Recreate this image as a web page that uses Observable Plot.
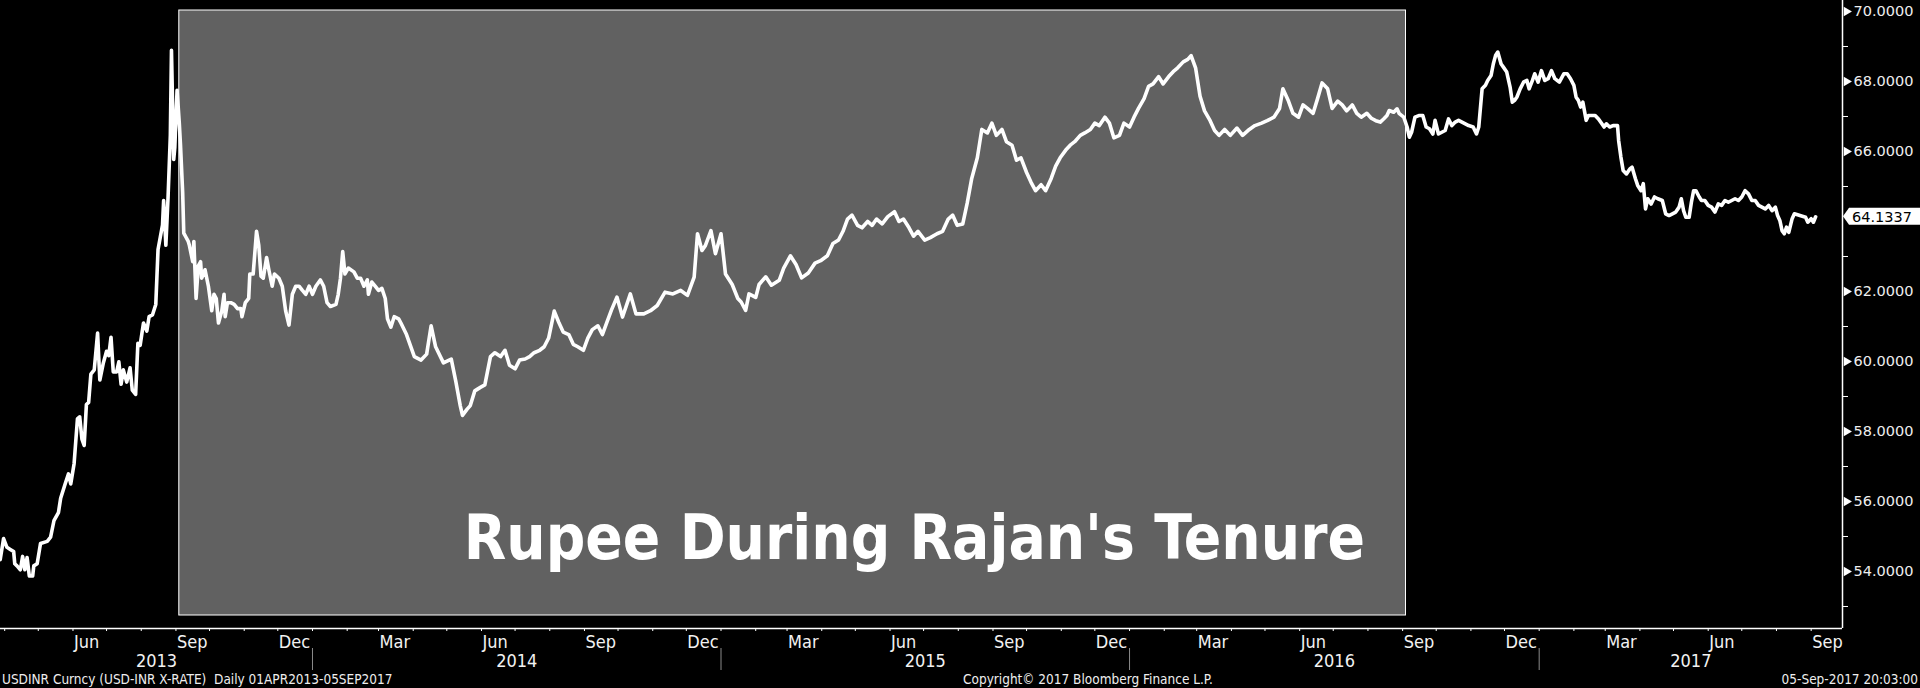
<!DOCTYPE html>
<html><head><meta charset="utf-8">
<script src="https://cdn.jsdelivr.net/npm/d3@7"></script>
<script src="https://cdn.jsdelivr.net/npm/@observablehq/plot@0.6"></script>
<style>
html,body{margin:0;padding:0;background:#000;overflow:hidden;}
#chart svg{display:block;}
#footer{position:relative;width:1920px;height:18px;font-family:"DejaVu Sans Condensed","DejaVu Sans",sans-serif;font-size:13.5px;color:#eee;line-height:18px;}
#footer span{position:absolute;top:0;white-space:pre;}
</style></head><body>
<div id="chart"></div>
<div id="footer"><span style="left:2px">USDINR Curncy (USD-INR X-RATE)  Daily 01APR2013-05SEP2017</span><span style="left:963px">Copyright© 2017 Bloomberg Finance L.P.</span><span style="right:2px">05-Sep-2017 20:03:00</span></div>
<script>
// USD-INR daily rate
const usdinr2013 = [
["2013-03-28",54.34],["2013-03-31",54.94],["2013-04-03",54.69],["2013-04-06",54.63],["2013-04-09",54.57],["2013-04-10",54.22],["2013-04-12",54.16],["2013-04-15",54.05],["2013-04-17",54.43],["2013-04-19",54.05],["2013-04-21",54.40],["2013-04-23",53.87],["2013-04-26",53.87],["2013-04-27",54.16],["2013-04-30",54.22],
["2013-05-03",54.80],["2013-05-09",54.86],["2013-05-12",54.98],["2013-05-15",55.45],["2013-05-19",55.68],["2013-05-21",56.09],["2013-05-25",56.50],["2013-05-28",56.79],["2013-05-30",56.50],
["2013-06-02",57.08],["2013-06-05",58.36],["2013-06-07",58.42],["2013-06-09",57.78],["2013-06-11",57.60],["2013-06-13",58.77],["2013-06-15",58.83],["2013-06-17",59.64],["2013-06-20",59.76],["2013-06-23",60.81],["2013-06-25",59.47],["2013-06-28",59.94],
["2013-07-01",60.29],["2013-07-03",60.17],["2013-07-05",60.69],["2013-07-07",59.70],["2013-07-10",59.70],["2013-07-12",59.99],["2013-07-14",59.35],["2013-07-16",59.76],["2013-07-19",59.41],["2013-07-22",59.82],["2013-07-24",59.18],["2013-07-27",59.06],["2013-07-29",60.52],["2013-07-31",60.46],
["2013-08-03",61.10],["2013-08-06",60.87],["2013-08-08",61.28],["2013-08-11",61.33],["2013-08-14",61.63],["2013-08-16",63.20],["2013-08-18",63.55],["2013-08-20",63.90],["2013-08-21",64.60],["2013-08-23",63.32],["2013-08-25",64.72],["2013-08-27",66.47],["2013-08-28",68.89],["2013-08-30",65.77],["2013-08-31",66.12],
["2013-09-02",67.75],["2013-09-04",66.81],["2013-09-05",66.23],["2013-09-07",64.83],["2013-09-08",63.67],["2013-09-10",63.55],["2013-09-12",63.43],["2013-09-13",63.32],["2013-09-16",62.85],["2013-09-17",63.43],["2013-09-19",61.80],["2013-09-21",62.73],["2013-09-23",62.85],["2013-09-24",62.38],["2013-09-27",62.62],["2013-09-30",62.15],
["2013-10-03",61.45],["2013-10-05",61.92],["2013-10-07",61.80],["2013-10-09",61.10],["2013-10-12",61.45],["2013-10-14",61.92],["2013-10-15",61.28],["2013-10-17",61.68],["2013-10-20",61.68],["2013-10-23",61.63],["2013-10-26",61.51],["2013-10-29",61.51],["2013-10-30",61.28],
["2013-11-02",61.68],["2013-11-05",61.80],["2013-11-06",62.50],["2013-11-09",62.50],["2013-11-12",63.72],["2013-11-14",63.32],["2013-11-16",62.44],["2013-11-18",62.38],["2013-11-21",62.97],["2013-11-23",62.62],["2013-11-26",62.15],["2013-11-28",62.50],
["2013-12-02",62.38],["2013-12-05",62.15],["2013-12-08",61.45],["2013-12-11",61.04],["2013-12-14",61.92],["2013-12-17",62.15],["2013-12-20",62.15],["2013-12-23",62.03],["2013-12-26",61.92],["2013-12-29",62.15]
];
const usdinr2014 = [
["2014-01-01",61.92],["2014-01-04",62.15],["2014-01-08",62.33],["2014-01-11",62.15],["2014-01-14",61.68],["2014-01-17",61.57],["2014-01-22",61.63],["2014-01-24",61.92],["2014-01-26",62.38],["2014-01-28",63.14],["2014-01-30",62.50],
["2014-02-02",62.67],["2014-02-07",62.56],["2014-02-10",62.38],["2014-02-13",62.38],["2014-02-16",62.15],["2014-02-19",62.33],["2014-02-20",61.92],["2014-02-23",62.27],["2014-02-26",62.15],
["2014-03-01",62.03],["2014-03-04",62.09],["2014-03-07",61.80],["2014-03-09",61.22],["2014-03-12",60.98],["2014-03-15",61.28],["2014-03-19",61.22],["2014-03-21",61.10],["2014-03-26",60.77],
["2014-04-02",60.14],["2014-04-08",60.04],["2014-04-13",60.21],["2014-04-17",61.02],["2014-04-21",60.42],["2014-04-28",59.96],
["2014-05-05",60.07],["2014-05-09",59.44],["2014-05-13",58.74],["2014-05-15",58.46],["2014-05-19",58.63],["2014-05-22",58.74],["2014-05-26",59.16],["2014-05-31",59.26],
["2014-06-04",59.33],["2014-06-09",60.14],["2014-06-13",60.25],["2014-06-18",60.14],["2014-06-22",60.32],["2014-06-26",59.89],
["2014-07-01",59.79],["2014-07-05",60.04],["2014-07-10",60.07],["2014-07-14",60.14],["2014-07-18",60.25],["2014-07-23",60.32],["2014-07-27",60.42],["2014-07-31",60.67],
["2014-08-05",61.44],["2014-08-09",61.12],["2014-08-13",60.84],["2014-08-18",60.77],["2014-08-22",60.49],["2014-08-26",60.42],["2014-08-31",60.32],
["2014-09-04",60.67],["2014-09-08",60.91],["2014-09-13",61.02],["2014-09-17",60.77],["2014-09-21",61.12],["2014-09-25",61.46],["2014-09-30",61.84],
["2014-10-05",61.27],["2014-10-12",61.93],["2014-10-17",61.36],["2014-10-24",61.36],["2014-10-30",61.45],
["2014-11-05",61.60],["2014-11-12",61.98],["2014-11-19",61.93],["2014-11-26",62.03],
["2014-12-02",61.89],["2014-12-08",62.41],["2014-12-11",63.65],["2014-12-15",63.17],["2014-12-18",63.31],["2014-12-23",63.74],["2014-12-27",63.08]
];
const usdinr2015 = [
["2015-01-01",63.65],["2015-01-05",62.50],["2015-01-11",62.20],["2015-01-16",61.80],["2015-01-19",61.70],["2015-01-23",61.46],["2015-01-26",61.93],
["2015-02-01",61.83],["2015-02-04",62.20],["2015-02-10",62.42],["2015-02-15",62.18],["2015-02-22",62.32],["2015-02-26",62.67],
["2015-03-04",63.02],["2015-03-09",62.77],["2015-03-14",62.39],["2015-03-20",62.53],["2015-03-26",62.81],["2015-03-31",62.88],
["2015-04-06",63.02],["2015-04-11",63.37],["2015-04-16",63.47],["2015-04-20",63.72],["2015-04-24",64.07],["2015-04-28",64.18],
["2015-05-03",63.89],["2015-05-07",63.82],["2015-05-12",64.00],["2015-05-16",63.89],["2015-05-20",64.07],["2015-05-25",63.93],["2015-05-30",64.14],
["2015-06-05",64.28],["2015-06-09",64.00],["2015-06-13",64.07],["2015-06-18",63.82],["2015-06-22",63.58],["2015-06-26",63.72],
["2015-07-02",63.47],["2015-07-07",63.54],["2015-07-13",63.65],["2015-07-18",63.72],["2015-07-23",64.07],["2015-07-27",64.18],["2015-07-31",63.89],
["2015-08-05",63.93],["2015-08-09",64.53],["2015-08-13",65.23],["2015-08-18",65.82],["2015-08-22",66.63],["2015-08-27",66.53],["2015-08-31",66.81],
["2015-09-04",66.46],["2015-09-09",66.63],["2015-09-13",66.28],["2015-09-18",66.18],["2015-09-22",65.75],["2015-09-26",65.82],
["2015-10-01",65.40],["2015-10-05",65.12],["2015-10-09",64.88],["2015-10-14",65.05],["2015-10-18",64.88],["2015-10-23",65.23],["2015-10-27",65.58],["2015-10-31",65.82],
["2015-11-05",66.04],["2015-11-09",66.18],["2015-11-13",66.28],["2015-11-18",66.46],["2015-11-22",66.53],["2015-11-27",66.63],
["2015-12-01",66.81],["2015-12-05",66.74],["2015-12-10",66.98],["2015-12-14",66.81],["2015-12-18",66.39],["2015-12-23",66.46],["2015-12-27",66.81]
];
const usdinr2016 = [
["2016-01-01",66.70],["2016-01-05",66.98],["2016-01-09",67.23],["2016-01-14",67.51],["2016-01-18",67.86],["2016-01-22",67.93],["2016-01-27",68.14],["2016-01-31",67.93],
["2016-02-05",68.14],["2016-02-09",68.28],["2016-02-13",68.39],["2016-02-18",68.56],["2016-02-22",68.63],["2016-02-25",68.74],["2016-02-29",68.39],
["2016-03-04",67.58],["2016-03-08",67.16],["2016-03-13",66.88],["2016-03-17",66.60],["2016-03-21",66.46],["2016-03-26",66.63],["2016-03-31",66.46],
["2016-04-06",66.67],["2016-04-11",66.46],["2016-04-17",66.63],["2016-04-22",66.74],["2016-04-28",66.81],
["2016-05-03",66.88],["2016-05-09",66.98],["2016-05-14",67.23],["2016-05-17",67.79],["2016-05-22",67.44],["2016-05-26",67.09],["2016-05-31",66.98],
["2016-06-04",67.33],["2016-06-08",67.23],["2016-06-13",67.09],["2016-06-17",67.51],["2016-06-21",67.96],["2016-06-26",67.79],["2016-06-30",67.23],
["2016-07-05",67.44],["2016-07-09",67.33],["2016-07-13",67.16],["2016-07-18",67.33],["2016-07-22",67.09],["2016-07-26",66.98],["2016-07-31",67.09],
["2016-08-04",66.95],["2016-08-08",66.88],["2016-08-12",66.84],["2016-08-15",66.93],["2016-08-18",67.03],["2016-08-20",67.17],["2016-08-24",67.12],["2016-08-27",67.22],["2016-08-29",67.08],
["2016-09-02",66.98],["2016-09-05",66.70],["2016-09-07",66.41],["2016-09-09",66.55],["2016-09-12",66.98],["2016-09-16",67.03],["2016-09-19",67.03],["2016-09-22",66.70],["2016-09-25",66.65],["2016-09-28",66.50],["2016-09-30",66.89],
["2016-10-03",66.50],["2016-10-06",66.55],["2016-10-09",66.60],["2016-10-12",66.93],["2016-10-15",66.74],["2016-10-18",66.84],["2016-10-21",66.89],["2016-10-24",66.84],["2016-10-27",66.79],["2016-10-30",66.74],
["2016-11-03",66.70],["2016-11-06",66.50],["2016-11-08",66.70],["2016-11-11",67.79],["2016-11-14",67.89],["2016-11-16",68.03],["2016-11-19",68.17],["2016-11-21",68.50],["2016-11-23",68.74],["2016-11-25",68.84],["2016-11-28",68.50],["2016-11-30",68.41],
["2016-12-03",68.27],["2016-12-06",67.84],["2016-12-08",67.41],["2016-12-10",67.46],["2016-12-12",67.55],["2016-12-15",67.79],["2016-12-18",67.98],["2016-12-21",68.03],["2016-12-23",67.79],["2016-12-26",68.03],["2016-12-28",68.22],["2016-12-31",67.98]
];
const usdinr2017 = [
["2017-01-03",68.31],["2017-01-06",68.03],["2017-01-09",68.08],["2017-01-12",68.31],["2017-01-15",68.08],["2017-01-19",67.98],["2017-01-23",68.22],["2017-01-26",68.22],["2017-01-29",68.08],
["2017-02-01",67.89],["2017-02-03",67.55],["2017-02-05",67.46],["2017-02-07",67.27],["2017-02-09",67.41],["2017-02-12",66.89],["2017-02-14",67.03],["2017-02-17",67.03],["2017-02-20",67.03],["2017-02-23",66.93],["2017-02-26",66.79],["2017-02-28",66.70],
["2017-03-02",66.79],["2017-03-05",66.70],["2017-03-08",66.74],["2017-03-12",66.74],["2017-03-13",66.31],["2017-03-15",65.84],["2017-03-17",65.46],["2017-03-20",65.36],["2017-03-23",65.50],["2017-03-25",65.55],["2017-03-28",65.22],["2017-03-30",65.03],
["2017-04-02",64.88],["2017-04-04",65.08],["2017-04-06",64.36],["2017-04-08",64.65],["2017-04-11",64.50],["2017-04-14",64.70],["2017-04-17",64.65],["2017-04-21",64.60],["2017-04-24",64.22],["2017-04-27",64.17],["2017-04-30",64.22],
["2017-05-03",64.27],["2017-05-06",64.41],["2017-05-08",64.65],["2017-05-10",64.31],["2017-05-12",64.12],["2017-05-15",64.12],["2017-05-17",64.55],["2017-05-19",64.88],["2017-05-21",64.88],["2017-05-24",64.70],["2017-05-26",64.60],["2017-05-29",64.60],
["2017-06-01",64.46],["2017-06-04",64.41],["2017-06-07",64.27],["2017-06-10",64.50],["2017-06-13",64.46],["2017-06-16",64.60],["2017-06-19",64.55],["2017-06-22",64.60],["2017-06-25",64.65],["2017-06-28",64.60],
["2017-07-01",64.70],["2017-07-04",64.88],["2017-07-07",64.79],["2017-07-10",64.60],["2017-07-13",64.60],["2017-07-16",64.46],["2017-07-19",64.41],["2017-07-22",64.36],["2017-07-25",64.46],["2017-07-28",64.31],["2017-07-31",64.41],
["2017-08-02",64.17],["2017-08-04",64.03],["2017-08-06",63.74],["2017-08-08",63.65],["2017-08-10",63.84],["2017-08-12",63.69],["2017-08-15",64.08],["2017-08-17",64.22],["2017-08-22",64.17],["2017-08-27",64.12],["2017-08-29",63.98],
["2017-09-01",64.08],["2017-09-03",63.98],["2017-09-05",64.1337]
];
// Rajan's tenure (shaded band)
const tenureDates = ["2013-09-04", "2016-09-04"];
const tenureLabel = "Rupee During Rajan's Tenure";
// right-axis ticks
const majorTicks = [54, 56, 58, 60, 62, 66, 68, 70];
const minorTicks = [53, 55, 57, 59, 61, 63, 65, 67, 69];

const W = 1920, MR = 78;
const parse = d3.utcParse("%Y-%m-%d");
const series = [...usdinr2013, ...usdinr2014, ...usdinr2015, ...usdinr2016, ...usdinr2017]
  .map(([d, v]) => ({date: parse(d), value: v}));
const tenure = {start: parse(tenureDates[0]), end: parse(tenureDates[1])};
const xDomain = [new Date(Date.UTC(2013, 2, 28, 6)), new Date(Date.UTC(2017, 8, 29, 0))];
const yDomain = [52.371, 70.314];
const months = d3.utcMonth.range(d3.utcMonth.ceil(xDomain[0]), xDomain[1]);
const quarterMonths = months.filter(d => d.getUTCMonth() % 3 === 2);
const yearStarts = d3.utcYear.range(d3.utcYear.ceil(xDomain[0]), xDomain[1]);
const yearLabels = d3.utcYear.range(d3.utcYear.floor(xDomain[0]), xDomain[1]).map(y => {
  const a = Math.max(+y, +xDomain[0]), b = Math.min(+d3.utcYear.offset(y, 1), +xDomain[1]);
  return {date: new Date((a + b) / 2), label: String(y.getUTCFullYear())};
});
const last = series[series.length - 1];

function lastValueMark(index, scales) {
  const yc = scales.y(last.value);
  const x0 = W - MR + 1;
  const g = d3.create("svg:g");
  g.append("path")
    .attr("d", `M${x0},${yc}L${x0 + 6},${yc - 8.5}H${W}V${yc + 8.5}H${x0 + 6}Z`)
    .attr("fill", "#fff");
  g.append("text").attr("x", x0 + 9).attr("y", yc).attr("dy", "0.36em")
    .attr("text-anchor", "start")
    .attr("font-size", 14.5).attr("font-family", "DejaVu Sans").attr("fill", "#000")
    .text(d3.format(".4f")(last.value));
  return g.node();
}

const chart = Plot.plot({
  width: W, height: 670,
  marginTop: 0, marginLeft: 0, marginRight: MR, marginBottom: 42,
  style: {background: "#000", color: "#fff", fontFamily: "'DejaVu Sans Condensed', 'DejaVu Sans', sans-serif", overflow: "visible"},
  x: {type: "utc", domain: xDomain, axis: null, label: null},
  y: {domain: yDomain, axis: null, label: null},
  marks: [
    Plot.rect([tenure], {x1: "start", x2: "end", fill: "#616161", stroke: "#fff", strokeWidth: 1, insetTop: 10, insetBottom: 13}),
    Plot.text([tenure], {x: "end", text: () => tenureLabel, frameAnchor: "bottom", textAnchor: "end", lineAnchor: "bottom", dx: -41, dy: -70, fontSize: 61.5, fontWeight: "bold", fill: "#fff"}),
    Plot.ruleY([yDomain[0]], {stroke: "#fff", strokeWidth: 1.5}),
    Plot.ruleX([xDomain[1]], {stroke: "#fff", strokeWidth: 1.5}),
    Plot.axisX(months, {tickSize: 3, text: null, label: null, color: "#fff"}),
    Plot.axisX(quarterMonths, {tickSize: 0, tickPadding: 7, label: null, tickFormat: d3.utcFormat("%b"), textAnchor: "start", dx: 1, fontSize: 18, color: "#f2f2f2"}),
    Plot.axisX(yearStarts, {tickSize: 22, dy: 20, text: null, label: null, color: "#8a8a8a"}),
    Plot.text(yearLabels, {x: "date", text: "label", frameAnchor: "bottom", lineAnchor: "bottom", dy: 38, fontSize: 18, fill: "#f2f2f2"}),
    Plot.axisY(minorTicks, {anchor: "right", tickSize: 5, text: null, label: null, color: "#fff"}),
    Plot.dot(majorTicks, {y: d => d, frameAnchor: "right", symbol: "triangle", rotate: 90, r: 3.5, fill: "#fff", stroke: null, dx: 4}),
    Plot.axisY(majorTicks, {anchor: "right", tickSize: 0, tickPadding: 11, label: null, tickFormat: d => d.toFixed(4), fontSize: 14.5, fontFamily: "DejaVu Sans", color: "#eee"}),
    Plot.line(series, {x: "date", y: "value", stroke: "#fff", strokeWidth: 3.6, strokeLinejoin: "round"}),
    lastValueMark
  ]
});
document.getElementById("chart").append(chart);
</script>
</body></html>
